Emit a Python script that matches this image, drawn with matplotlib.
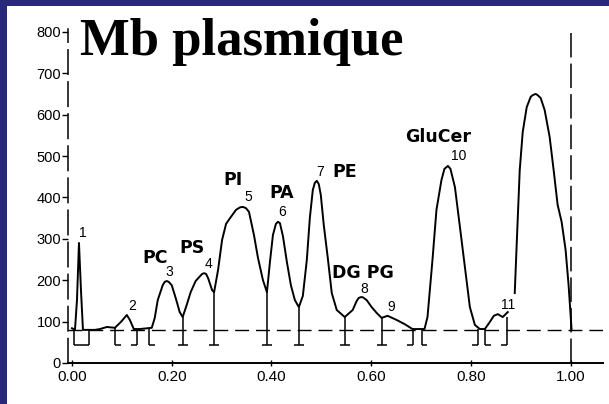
import matplotlib
matplotlib.use("Agg")
import matplotlib.pyplot as plt
from matplotlib.patches import Rectangle

# Densitometric scan of plasma-membrane lipids (TLC), relative migration vs. signal
trace_x = [0.000, 0.006, 0.010, 0.014, 0.018, 0.022, 0.046, 0.056, 0.070, 0.086,
           0.098, 0.110, 0.116, 0.124, 0.136, 0.160, 0.166, 0.172, 0.182, 0.186,
           0.190, 0.194, 0.200, 0.208, 0.216, 0.222, 0.230, 0.238, 0.248, 0.257,
           0.261, 0.265, 0.269, 0.273, 0.281, 0.285, 0.293, 0.301, 0.309, 0.317,
           0.329, 0.337, 0.343, 0.349, 0.355, 0.365, 0.373, 0.383, 0.391, 0.397,
           0.403, 0.409, 0.413, 0.417, 0.423, 0.431, 0.439, 0.447, 0.455, 0.463,
           0.471, 0.477, 0.483, 0.487, 0.491, 0.495, 0.499, 0.505, 0.513, 0.521,
           0.531, 0.547, 0.563, 0.571, 0.575, 0.579, 0.583, 0.591, 0.601, 0.611,
           0.621, 0.633, 0.651, 0.667, 0.683, 0.707, 0.713, 0.723, 0.731, 0.741,
           0.747, 0.754, 0.759, 0.768, 0.778, 0.788, 0.798, 0.808, 0.818, 0.828,
           0.838, 0.846, 0.854, 0.864, 0.874]
trace_y = [84, 80, 152, 290, 176, 80, 80, 82, 87, 85,
           99, 116, 104, 82, 82, 85, 109, 152, 188, 196,
           198, 196, 188, 157, 123, 111, 140, 171, 198, 210,
           215, 217, 215, 205, 176, 171, 225, 297, 336, 350,
           370, 376, 377, 374, 365, 309, 254, 200, 171, 244,
           309, 336, 341, 338, 307, 244, 188, 152, 135, 162,
           249, 350, 418, 435, 440, 432, 406, 333, 254, 169,
           128, 111, 128, 150, 157, 159, 159, 152, 135, 121,
           109, 114, 104, 94, 82, 82, 111, 249, 370, 442,
           469, 476, 469, 425, 329, 232, 135, 92, 82, 82,
           99, 114, 118, 111, 123]

# Solvent front peak (recorded separately)
front_x = [0.888, 0.892, 0.898, 0.904, 0.912, 0.920, 0.924, 0.930, 0.934, 0.940,
           0.948, 0.958, 0.966, 0.974, 0.982, 0.990, 0.996, 1.000, 1.002]
front_y = [169, 290, 466, 558, 618, 643, 647, 650, 647, 640,
           611, 546, 466, 382, 341, 273, 188, 116, 80]

baseline = 80
mark_bottom = 43

# Integration marks: position, top of the drop line, foot orientation
mark_x = [0.086, 0.130, 0.154, 0.222, 0.285, 0.391, 0.455, 0.547, 0.621,
          0.683, 0.701, 0.814, 0.828, 0.872]
mark_top = [85, 82, 85, 111, 171, 171, 135, 111, 109,
            82, 82, 82, 82, 111]
mark_foot = ["r", "l", "r", "c", "c", "c", "c", "c", "c",
             "l", "r", "l", "r", "l"]
box_x = [0.004, 0.034]

peak_ids = ["1", "2", "3", "4", "5", "6", "7", "8", "9", "10", "11"]
peak_id_x = [0.022, 0.120, 0.196, 0.273, 0.353, 0.421, 0.497, 0.587, 0.641, 0.776, 0.874]
peak_id_y = [314, 138, 220, 239, 401, 365, 461, 179, 135, 500, 140]

lipid_names = ["PC", "PS", "PI", "PA", "PE", "DG PG", "GluCer"]
lipid_x = [0.166, 0.240, 0.323, 0.421, 0.547, 0.583, 0.735]
lipid_y = [254, 278, 442, 411, 461, 217, 545]

x_ticks = [0.0, 0.2, 0.4, 0.6, 0.8, 1.0]
y_ticks = [0, 100, 200, 300, 400, 500, 600, 700, 800]

W, H = 609, 404
fig = plt.figure(figsize=(W / 100, H / 100), dpi=100)
fig.patch.set_facecolor("white")

# navy frame strips
fig.patches.append(Rectangle((0, 0), 7 / W, 1, transform=fig.transFigure,
                             facecolor="#29297a", edgecolor="none", zorder=0))
fig.patches.append(Rectangle((0, 1 - 6 / H), 1, 6 / H, transform=fig.transFigure,
                             facecolor="#29297a", edgecolor="none", zorder=0))

ax = fig.add_axes([68 / W, (H - 369.2) / H, 535 / W, 349.8 / H])
ax.set_xlim(-0.008, 1.065)
ax.set_ylim(-15, 830)
ax.patch.set_alpha(0)

for s in ("top", "right"):
    ax.spines[s].set_visible(False)
ax.spines["bottom"].set_position(("data", 0))
ax.spines["bottom"].set_linewidth(1.4)
ax.spines["left"].set_bounds(0, 808)
ax.spines["left"].set_linewidth(1.1)
ax.spines["left"].set_linestyle((0, (16, 5)))

ax.set_xticks(x_ticks)
ax.set_xticklabels([f"{v:.2f}" for v in x_ticks])
ax.set_yticks(y_ticks)
ax.set_yticklabels([str(v) for v in y_ticks])
ax.tick_params(axis="x", direction="inout", length=4, width=1, pad=3,
               labelsize=11)
ax.tick_params(axis="y", direction="out", length=4, width=1, pad=1,
               labelsize=10.5)
for lab in ax.get_xticklabels() + ax.get_yticklabels():
    lab.set_fontfamily("Liberation Sans")

ink = "black"
ax.plot(trace_x, trace_y, color=ink, lw=1.4, solid_joinstyle="round")
ax.plot(front_x, front_y, color=ink, lw=1.4, solid_joinstyle="round")

# baseline and front line
ax.axhline(baseline, xmin=0.0, xmax=1.0, color=ink, lw=1.0, dashes=(10, 5))
ax.plot([1.0, 1.0], [0, 812], color=ink, lw=1.1, dashes=(16, 4))

# integration marks
half = 0.010
foot = 0.012
for x, top, f in zip(mark_x, mark_top, mark_foot):
    ax.vlines(x, mark_bottom, top, color=ink, lw=1.1)
    if f == "c":
        ax.hlines(mark_bottom, x - half, x + half, color=ink, lw=1.1)
    elif f == "r":
        ax.hlines(mark_bottom, x, x + foot, color=ink, lw=1.1)
    else:
        ax.hlines(mark_bottom, x - foot, x, color=ink, lw=1.1)
ax.vlines(box_x, mark_bottom, baseline, color=ink, lw=1.1)
ax.hlines(mark_bottom, box_x[0], box_x[1], color=ink, lw=1.1)

for t, x, y in zip(peak_ids, peak_id_x, peak_id_y):
    ax.text(x, y, t, ha="center", va="center", fontsize=10,
            fontfamily="Liberation Sans")
for t, x, y in zip(lipid_names, lipid_x, lipid_y):
    ax.text(x, y, t, ha="center", va="center", fontsize=12.5,
            fontweight="bold", fontfamily="DejaVu Sans")

fig.text(80 / W, 1 - 55 / H, "Mb plasmique", ha="left", va="baseline",
         fontsize=38, fontweight="bold", fontfamily="Liberation Serif")

fig.savefig("out.png", dpi=100, facecolor="white")
